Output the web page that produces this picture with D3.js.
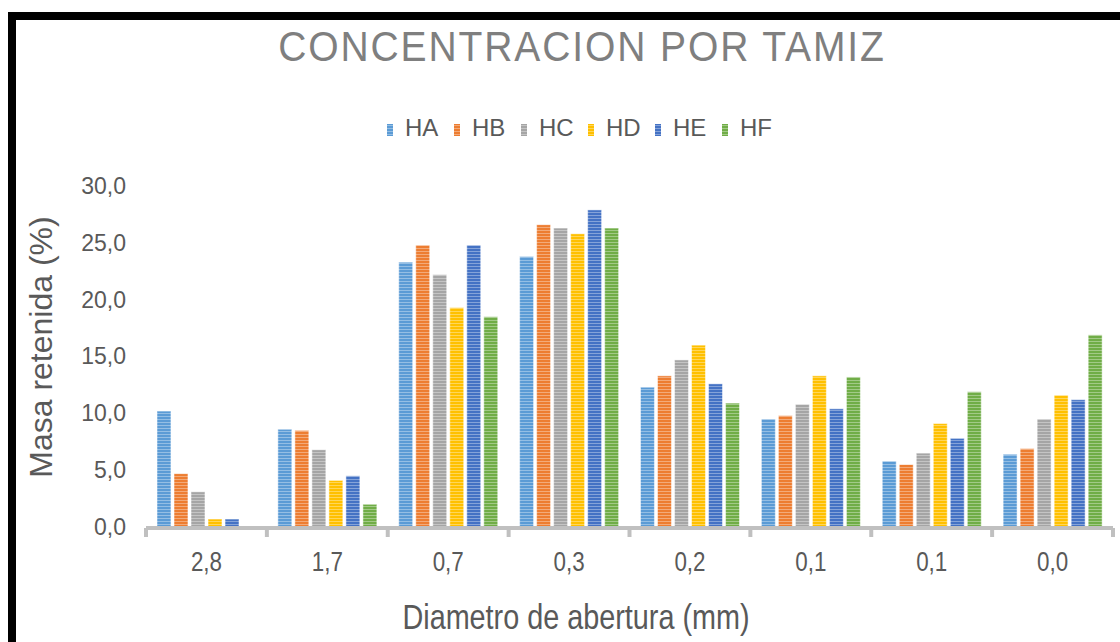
<!DOCTYPE html>
<html>
<head>
<meta charset="utf-8">
<script src="https://cdn.jsdelivr.net/npm/d3@7"></script>
<style>
  html, body { margin: 0; padding: 0; background: #ffffff; }
  svg { display: block; font-family: "Liberation Sans", Arial, sans-serif; }
</style>
</head>
<body>
<svg id="chart" width="1120" height="642"></svg>
<script>
// Sieve openings (mm) and retained mass (%) per sample
const categories = ["2,8", "1,7", "0,7", "0,3", "0,2", "0,1", "0,1", "0,0"];
const seriesNames = ["HA", "HB", "HC", "HD", "HE", "HF"];
const HA = [10.2, 8.6, 23.3, 23.8, 12.3, 9.5, 5.8, 6.4];
const HB = [4.7, 8.5, 24.8, 26.6, 13.3, 9.8, 5.5, 6.9];
const HC = [3.1, 6.8, 22.2, 26.3, 14.7, 10.8, 6.5, 9.5];
const HD = [0.7, 4.1, 19.3, 25.8, 16.0, 13.3, 9.1, 11.6];
const HE = [0.7, 4.5, 24.8, 27.9, 12.6, 10.4, 7.8, 11.2];
const HF = [0.0, 2.0, 18.5, 26.3, 10.9, 13.2, 11.9, 16.9];
const yTicks = [0, 5, 10, 15, 20, 25, 30];

const seriesValues = [HA, HB, HC, HD, HE, HF];
const colors = ["#5B9BD5", "#ED7D31", "#A5A5A5", "#FFC000", "#4472C4", "#70AD47"];

const svg = d3.select("#chart");
const textColor = "#595959";

// Frame (top and left edges)
svg.append("rect").attr("x", 8).attr("y", 12).attr("width", 1112).attr("height", 8).attr("fill", "#000");
svg.append("rect").attr("x", 8).attr("y", 12).attr("width", 8).attr("height", 630).attr("fill", "#000");

// Striped fills for each series
const defs = svg.append("defs");
seriesNames.forEach((name, i) => {
  const p = defs.append("pattern")
    .attr("id", "fill-" + name)
    .attr("patternUnits", "userSpaceOnUse")
    .attr("width", 6).attr("height", 3);
  p.append("rect").attr("width", 6).attr("height", 3).attr("fill", colors[i]);
  p.append("rect").attr("y", 2).attr("width", 6).attr("height", 1)
    .attr("fill", "#ffffff").attr("opacity", 0.35);
});

const x0 = d3.scaleBand().domain(d3.range(categories.length)).range([146, 1113]);
const x1 = d3.scaleBand().domain(seriesNames).range([11, 110]).paddingInner(0.18);
const y = d3.scaleLinear().domain([0, 30]).range([527, 186]);

// Bars
const groups = svg.append("g").selectAll("g")
  .data(d3.range(categories.length))
  .join("g")
  .attr("transform", d => `translate(${x0(d)},0)`);

groups.selectAll("rect")
  .data(ci => seriesNames.map((name, si) => ({ name, value: seriesValues[si][ci] })))
  .join("rect")
  .filter(d => d.value > 0)
  .attr("x", d => x1(d.name))
  .attr("width", x1.bandwidth())
  .attr("y", d => y(d.value))
  .attr("height", d => y(0) - y(d.value))
  .attr("fill", d => `url(#fill-${d.name})`)
  .attr("stroke", "#ffffff")
  .attr("stroke-opacity", 0.5)
  .attr("stroke-width", 1);

// Y axis (labels only)
const yAxis = svg.append("g")
  .attr("transform", "translate(126,0)")
  .call(d3.axisLeft(y).tickValues(yTicks).tickSize(0).tickPadding(0)
    .tickFormat(d => d3.format(".1f")(d).replace(".", ",")));
yAxis.select(".domain").remove();
yAxis.selectAll("text")
  .attr("fill", textColor)
  .attr("font-size", 23)
  .attr("font-family", "'Liberation Sans', Arial, sans-serif");

// X axis
const xAxis = svg.append("g")
  .attr("transform", `translate(0,${y(0) + 1})`)
  .call(d3.axisBottom(x0).tickSize(0).tickPadding(0).tickFormat(i => categories[i]));
xAxis.select(".domain")
  .attr("stroke", "#C0C0C0").attr("stroke-width", 4)
  .attr("d", `M${x0.range()[0]},0H${x0.range()[1]}`);
// tick marks at category boundaries
xAxis.selectAll(".boundary")
  .data(d3.range(categories.length + 1))
  .join("line")
  .attr("class", "boundary")
  .attr("x1", i => i < categories.length ? x0(i) : x0.range()[1])
  .attr("x2", i => i < categories.length ? x0(i) : x0.range()[1])
  .attr("y1", 0).attr("y2", 9)
  .attr("stroke", "#C0C0C0").attr("stroke-width", 4);
xAxis.selectAll(".tick text")
  .attr("fill", textColor)
  .attr("font-size", 28)
  .attr("font-family", "'Liberation Sans', Arial, sans-serif")
  .attr("y", 0)
  .attr("dy", 0)
  .attr("transform", "translate(0,43) scale(0.8,1)");

// Title
svg.append("text")
  .attr("x", 582).attr("y", 61)
  .attr("text-anchor", "middle")
  .attr("fill", "#7F7F7F")
  .attr("font-size", 42)
  .attr("letter-spacing", 2)
  .attr("transform", "translate(582,0) scale(0.93,1) translate(-582,0)")
  .text("CONCENTRACION POR TAMIZ");

// Legend
const legend = svg.append("g").selectAll("g")
  .data(seriesNames)
  .join("g")
  .attr("transform", (d, i) => `translate(${387 + i * 67},0)`);
legend.append("rect")
  .attr("x", 0).attr("y", 124).attr("width", 6).attr("height", 12)
  .attr("fill", d => `url(#fill-${d})`);
legend.append("text")
  .attr("x", 18).attr("y", 136)
  .attr("fill", textColor)
  .attr("font-size", 24)
  .text(d => d);

// Axis titles
svg.append("text")
  .attr("transform", "translate(52,347) rotate(-90)")
  .attr("text-anchor", "middle")
  .attr("fill", textColor)
  .attr("font-size", 32)
  .text("Masa retenida (%)");

svg.append("text")
  .attr("transform", "translate(576,629) scale(0.8,1)")
  .attr("text-anchor", "middle")
  .attr("fill", textColor)
  .attr("font-size", 36)
  .text("Diametro de abertura (mm)");
</script>
</body>
</html>
